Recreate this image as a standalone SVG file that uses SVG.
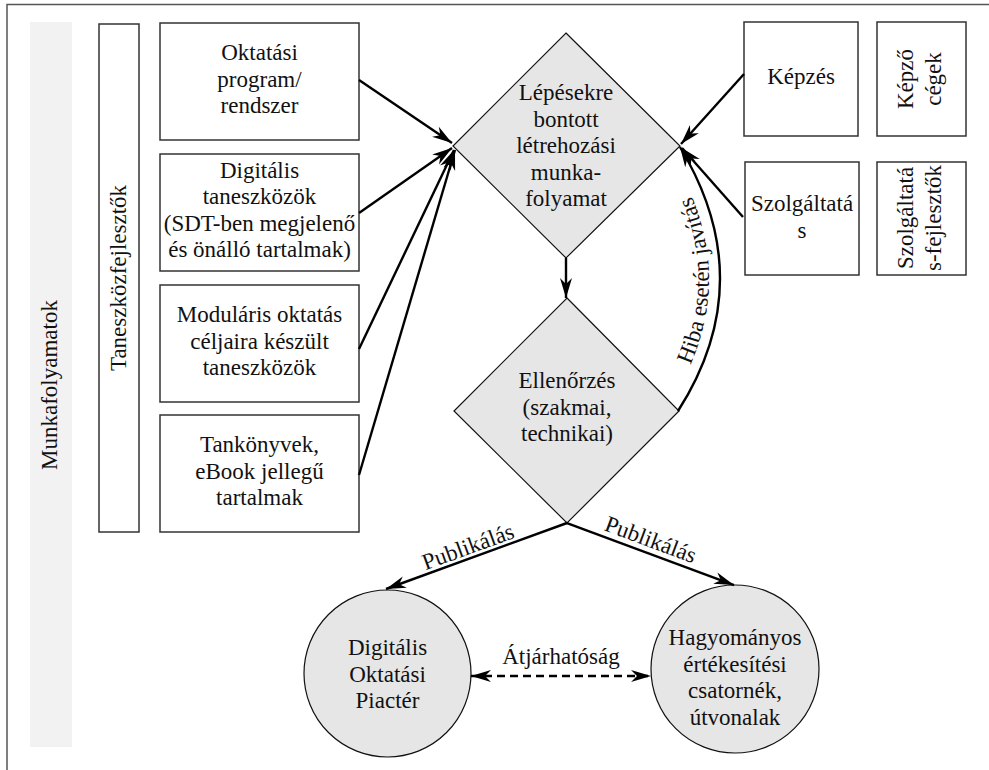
<svg xmlns="http://www.w3.org/2000/svg" width="989" height="770" viewBox="0 0 989 770">
<style>
text{font-family:'Liberation Serif','DejaVu Serif','Noto Serif',serif;font-size:23px;fill:#111;}
.c{text-anchor:middle;}
.box{fill:#fff;stroke:#333;stroke-width:1.5;}
.shape{fill:#e6e6e6;stroke:#111;stroke-width:1.2;}
.conn{fill:none;stroke:#000;stroke-width:2.4;}
.arr{marker-end:url(#ah);}
</style>
<defs>
<marker id="ah" viewBox="-21 -7 22 14" refX="0" refY="0" markerWidth="22" markerHeight="14" markerUnits="userSpaceOnUse" orient="auto-start-reverse">
<path d="M0,0 L-20,-6 L-14,0 L-20,6 Z" fill="#000"/>
</marker>
<path id="hibaPath" d="M667,408 Q750,281 669,153"/>
</defs>
<rect x="7" y="4.5" width="990" height="790" fill="#fff" stroke="#555" stroke-width="1.5"/>
<g id="lane-munkafolyamatok">
<rect x="30" y="22" width="42" height="725" fill="#f2f2f2"/>
<text class="c" transform="translate(51,385) rotate(-90)" y="6">Munkafolyamatok</text>
</g>
<g id="lane-taneszkozfejlesztok">
<rect class="box" x="99" y="24" width="40" height="508"/>
<text class="c" transform="translate(119,278) rotate(-90)" y="7">Taneszközfejlesztők</text>
</g>
<g id="n-oktatasi-program">
<rect class="box" x="160" y="23" width="199" height="117"/>
<text class="c" x="259.5" y="60">Oktatási<tspan x="259.5" dy="26.5">program/</tspan><tspan x="259.5" dy="26.5">rendszer</tspan></text>
</g>
<g id="n-digitalis-taneszkozok">
<rect class="box" x="160" y="154" width="199" height="117"/>
<text class="c" x="259.5" y="177.5">Digitális<tspan x="259.5" dy="26.5">taneszközök</tspan><tspan x="259.5" dy="26.5">(SDT-ben megjelenő</tspan><tspan x="259.5" dy="26.5">és önálló tartalmak)</tspan></text>
</g>
<g id="n-modularis">
<rect class="box" x="160" y="285" width="199" height="117"/>
<text class="c" x="259.5" y="322">Moduláris oktatás<tspan x="259.5" dy="26.5">céljaira készült</tspan><tspan x="259.5" dy="26.5">taneszközök</tspan></text>
</g>
<g id="n-tankonyvek">
<rect class="box" x="160" y="415" width="199" height="117"/>
<text class="c" x="259.5" y="452">Tankönyvek,<tspan x="259.5" dy="26.5">eBook jellegű</tspan><tspan x="259.5" dy="26.5">tartalmak</tspan></text>
</g>
<g id="n-lepesekre">
<polygon class="shape" points="566,33 680,146 566,258 453,146"/>
<text class="c" x="566" y="100">Lépésekre<tspan x="566" dy="26.5">bontott</tspan><tspan x="566" dy="26.5">létrehozási</tspan><tspan x="566" dy="26.5">munka-</tspan><tspan x="566" dy="26.5">folyamat</tspan></text>
</g>
<g id="n-ellenorzes">
<polygon class="shape" points="567,298 679,411 567,523 454,411"/>
<text class="c" x="567" y="388">Ellenőrzés<tspan x="567" dy="26.5">(szakmai,</tspan><tspan x="567" dy="26.5">technikai)</tspan></text>
</g>
<g id="n-kepzes">
<rect class="box" x="744" y="22" width="114" height="114"/>
<text class="c" x="801" y="84">Képzés</text>
</g>
<g id="n-kepzo-cegek">
<rect class="box" x="877" y="22" width="89" height="114"/>
<text class="c" transform="translate(921.5,79) rotate(-90)" y="-9">Képző<tspan x="0" dy="28">cégek</tspan></text>
</g>
<g id="n-szolgaltatas">
<rect class="box" x="745" y="162" width="114" height="113"/>
<text class="c" x="802" y="211">Szolgáltatá<tspan x="802" dy="26.5">s</tspan></text>
</g>
<g id="n-szolgaltatas-fejlesztok">
<rect class="box" x="877" y="162" width="89" height="113"/>
<text class="c" transform="translate(921.5,218) rotate(-90)" y="-8.5">Szolgáltatá<tspan x="0" dy="27.5">s-fejlesztők</tspan></text>
</g>
<g id="n-digitalis-piacter">
<circle class="shape" cx="387.5" cy="673.5" r="83.5"/>
<text class="c" x="387.5" y="655">Digitális<tspan x="387.5" dy="26.5">Oktatási</tspan><tspan x="387.5" dy="26.5">Piactér</tspan></text>
</g>
<g id="n-hagyomanyos">
<circle class="shape" cx="735" cy="669" r="84"/>
<text class="c" x="735" y="645">Hagyományos<tspan x="735" dy="26.5">értékesítési</tspan><tspan x="735" dy="26.5">csatornék,</tspan><tspan x="735" dy="26.5">útvonalak</tspan></text>
</g>
<g id="connectors">
<line class="conn arr" x1="359" y1="80" x2="452" y2="143"/>
<line class="conn arr" x1="359" y1="213" x2="452" y2="148"/>
<line class="conn arr" x1="359" y1="349" x2="454" y2="150"/>
<line class="conn arr" x1="359" y1="475" x2="455" y2="150"/>
<line class="conn arr" x1="744" y1="74" x2="681" y2="144"/>
<line class="conn arr" x1="743" y1="217" x2="682" y2="148"/>
<line class="conn arr" x1="566" y1="258" x2="566" y2="298"/>
<path class="conn arr" d="M678,411 Q761,281 680,147"/>
<text><textPath href="#hibaPath" startOffset="50%" text-anchor="middle">Hiba esetén javítás</textPath></text>
<line class="conn arr" x1="567" y1="523" x2="386" y2="589"/>
<line class="conn arr" x1="567" y1="523" x2="734" y2="585"/>
<text class="c" transform="translate(472,557.6) rotate(-20)" y="-4">Publikálás</text>
<text class="c" transform="translate(646,552.3) rotate(20.4)" y="-6">Publikálás</text>
<line class="conn" x1="471" y1="676" x2="651" y2="676" stroke-dasharray="8,5" marker-start="url(#ah)" marker-end="url(#ah)"/>
<text class="c" x="561" y="664">Átjárhatóság</text>
</g>
</svg>
